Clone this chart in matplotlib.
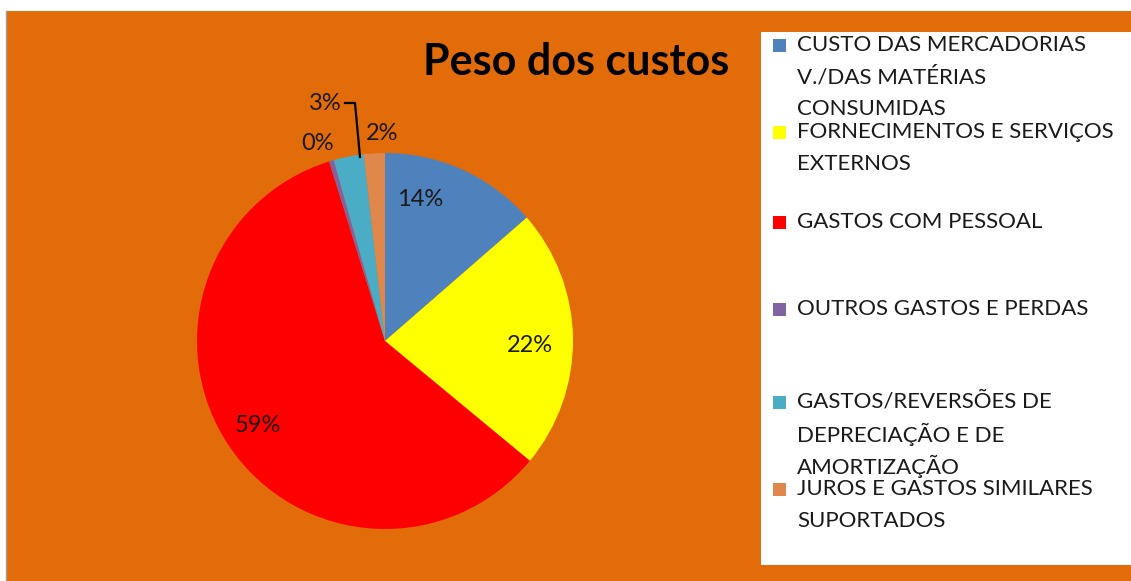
import matplotlib

matplotlib.use("Agg")
import matplotlib.pyplot as plt
from matplotlib.patches import Rectangle

W, H = 1131, 581

categories = [
    "CUSTO DAS MERCADORIAS\nV./DAS MATÉRIAS\nCONSUMIDAS",
    "FORNECIMENTOS E SERVIÇOS\nEXTERNOS",
    "GASTOS COM PESSOAL",
    "OUTROS GASTOS E PERDAS",
    "GASTOS/REVERSÕES DE\nDEPRECIAÇÃO E DE\nAMORTIZAÇÃO",
    "JUROS E GASTOS SIMILARES\nSUPORTADOS",
]
values = [13.6, 22.4, 59.2, 0.4, 2.6, 1.8]
colors = ["#4F81BD", "#FFFF00", "#FF0000", "#8064A2", "#4BACC6", "#E0884B"]

BG = "#E26B0A"
FONT = ["Lato", "DejaVu Sans"]

# label positions in image pixels (x, y from top)
label_pos = [(420, 200), (530, 345), (258, 425), (318, 143), (325, 103), (382, 133)]
# legend marker y (image pixels from top)
legend_y = [45, 132, 222, 309, 402, 489]
LINE = 32


def fy(y):
    return H - y


fig = plt.figure(figsize=(W / 100, H / 100), dpi=100)
fig.patch.set_facecolor("white")
ax = fig.add_axes([0, 0, 1, 1])

# chart area background
ax.add_patch(Rectangle((7, 0), W - 7, H - 11, facecolor=BG, edgecolor="none", zorder=0))
ax.plot([6, 6], [0, H - 11], color="#A0A0A0", lw=1, zorder=1)

ax.pie(values, colors=colors, startangle=90, counterclock=False,
       center=(385, fy(341)), radius=188, frame=True,
       wedgeprops=dict(linewidth=0))
ax.set_xlim(0, W)
ax.set_ylim(0, H)
ax.set_aspect("equal")
ax.axis("off")

for v, (x, y) in zip(values, label_pos):
    ax.text(x, fy(y), f"{v:.0f}%", ha="center", va="center", fontsize=17,
            family=FONT, color="#1A1A1A", zorder=5)

# leader line for the 3% label
ax.plot([345, 355, 360], [fy(103), fy(103), fy(157)], color="black", lw=1.6, zorder=5)

ax.text(576, fy(62), "Peso dos custos", ha="center", va="center", fontsize=31,
        fontweight="bold", family=FONT, color="black")

# legend box
ax.add_patch(Rectangle((761, fy(565)), W - 761, 565 - 32, facecolor="white",
                       edgecolor="none", zorder=2))
for label, c, y in zip(categories, colors, legend_y):
    ax.add_patch(Rectangle((773, fy(y) - 6.5), 13, 13, facecolor=c, edgecolor="none", zorder=3))
    for i, line in enumerate(label.split("\n")):
        ax.text(797, fy(y + i * LINE), line, ha="left", va="center", fontsize=16,
                family=FONT, color="#1A1A1A", zorder=4)

fig.savefig("out.png", dpi=100, facecolor=fig.get_facecolor())
plt.close(fig)
